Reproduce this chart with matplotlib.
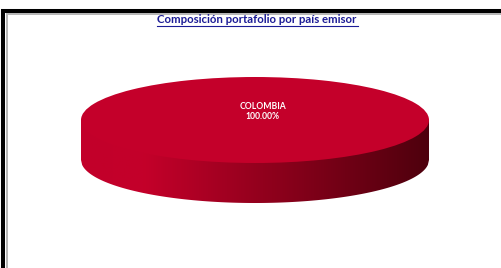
import numpy as np
import matplotlib
matplotlib.use("Agg")
import matplotlib.pyplot as plt
from matplotlib.patches import Rectangle, Polygon
from matplotlib.colors import LinearSegmentedColormap

# data
paises = ["COLOMBIA"]
porcentajes = [100.00]
titulo = "Composición portafolio por país emisor"

top_color = "#C4002A"
side_cmap = LinearSegmentedColormap.from_list(
    "side", [(0.0, "#C2002A"), (0.18, "#C4002A"), (0.55, "#8E001C"), (1.0, "#4E000D")])

W, H = 501, 268
fig = plt.figure(figsize=(W / 100, H / 100), dpi=100)
ax = fig.add_axes([0, 0, 1, 1])

# pixel geometry of the pie
cx, cy = 255, 120      # centre of top face (px)
rx, ry = 174, 43       # semi axes (px)
depth = 40 / ry        # thickness in data units

# side of the 3d pie (gradient)
xs = np.linspace(-1, 1, 300)
lower = -depth - np.sqrt(np.clip(1 - xs ** 2, 0, None))
verts = np.vstack([np.column_stack([xs, np.zeros_like(xs)]),
                   np.column_stack([xs[::-1], lower[::-1]])])
side = Polygon(verts, closed=True, facecolor="none", edgecolor="none")
ax.add_patch(side)
grad = np.linspace(0, 1, 256).reshape(1, -1)
im = ax.imshow(grad, cmap=side_cmap, extent=(-1, 1, -depth - 1, 0.2),
               aspect="auto", zorder=1, interpolation="bilinear")
im.set_clip_path(side)

# top face
wedges, _ = ax.pie(porcentajes, colors=[top_color], startangle=90,
                   radius=1, center=(0, 0), frame=True,
                   wedgeprops=dict(linewidth=0, zorder=2))
for w in wedges:
    w.set_zorder(2)

for nombre, val in zip(paises, porcentajes):
    ax.text(0.045, 0.2, f"{nombre}\n{val:.2f}%", color="white", ha="center",
            va="center", fontsize=6.2, fontweight="bold", family="Lato",
            linespacing=1.25, zorder=3)

ax.set_aspect("auto")
ax.set_xlim(-cx / rx, (W - cx) / rx)
ax.set_ylim((cy - H) / ry, cy / ry)
ax.axis("off")

# frame
fig.patches.append(Rectangle((3 / W, -0.2), 1.2, (H - 11) / H + 0.2,
                             transform=fig.transFigure, fill=False,
                             edgecolor="black", linewidth=2.9))
fig.patches.append(Rectangle((6.5 / W, -0.2), 1.2, (H - 14.3) / H + 0.2,
                             transform=fig.transFigure, fill=False,
                             edgecolor="#B4B4B4", linewidth=1.4))

fig.text(257 / W, 1 - 19.5 / H, titulo, ha="center", va="center",
         color="#1C1C96", fontsize=8.2, fontweight="bold", family="Lato")
fig.add_artist(plt.Line2D([157 / W, 358 / W], [1 - 25.5 / H, 1 - 25.5 / H],
                          color="#1C1C96", linewidth=0.8))

fig.savefig("out.png", dpi=100)
